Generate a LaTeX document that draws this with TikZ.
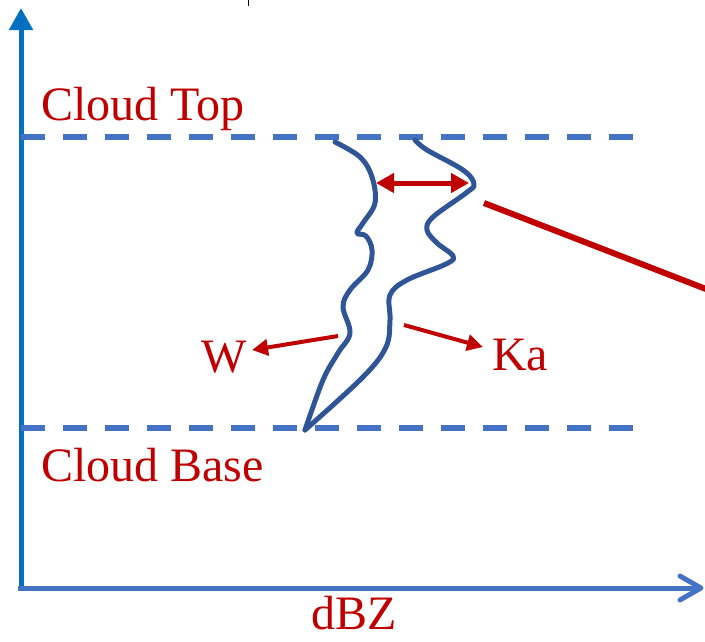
\documentclass[tikz,border=0pt]{standalone}
\usepackage{fontspec}
\setmainfont{Liberation Serif}
\usetikzlibrary{arrows.meta}
\definecolor{cred}{HTML}{C00000}
\definecolor{axisv}{HTML}{0070C0}
\definecolor{axish}{HTML}{4472C4}
\definecolor{curvec}{HTML}{2F5597}
\tikzset{
  lbl/.style={text=cred, inner sep=0pt, anchor=base west, font=\fontsize{48}{52}\selectfont},
  dashline/.style={draw=axish, line width=6, dash pattern=on 24 off 18},
  profile/.style={draw=curvec, line width=5, line cap=round, line join=round},
  redarrow/.style={draw=cred, line width=4, -{Triangle[length=16,width=16]}},
}
\begin{document}
\begin{tikzpicture}[x=1pt,y=-1pt]
\useasboundingbox (0,0) rectangle (705,641);
% coordinates
\coordinate (ybot) at (21,590);
\coordinate (ytop) at (21,8);
\coordinate (xleft) at (18,588);
\coordinate (xend) at (701,588);
\coordinate (ttop1) at (21,137);
\coordinate (ttop2) at (635,137);
\coordinate (tbase1) at (21,428);
\coordinate (tbase2) at (635,428);
\coordinate (tick1) at (248,0);
\coordinate (tick2) at (248,6);
% small tick
\draw[black, line width=1] (tick1) -- (tick2);
% axes
\draw[axisv, line width=5, -{Triangle[length=22,width=23]}] (ybot) -- (ytop);
\draw[axish, line width=5] (xleft) -- (xend);
\draw[axish, line width=5, line cap=round, line join=round] ([shift={(-21,-12)}]xend) -- (xend) -- ([shift={(-21,12)}]xend);
% dashed levels
\draw[dashline] (ttop1) -- (ttop2);
\draw[dashline] (tbase1) -- (tbase2);
% labels
\node[lbl] (ctop) at (41,120) {Cloud Top};
\node[lbl] (cbase) at (41,481) {Cloud Base};
\node[lbl] (w) at (201,372) {W};
\node[lbl] (ka) at (492,370) {Ka};
\node[lbl] (dbz) at (311,629) {dBZ};
% profiles
\draw[profile] plot[smooth, tension=0.6] coordinates {
 (335,142) (360,157) (372,177) (375,203) (363,223) (357,233) (366,236)
 (372,250) (368,270) (350,290) (343,307) (350,333) (338,353) (323,380) (305,430)};
\draw[profile] plot[smooth, tension=0.6] coordinates {
 (415,140) (427,150) (463,170) (474,184) (466,193) (433,217) (427,230)
 (437,243) (453,256) (446,264) (407,280) (390,295) (390,320) (386,347) (363,377) (305,430)};
% red arrows
\coordinate (d1) at (376,183);
\coordinate (d2) at (469,183);
\draw[cred, line width=5, {Triangle[length=18,width=19]}-{Triangle[length=18,width=19]}] (d1) -- (d2);
\coordinate (wstart) at (338,336);
\coordinate (wend) at (252,350);
\draw[redarrow] (wstart) -- (wend);
\coordinate (kstart) at (404,325);
\coordinate (kend) at (483,347);
\draw[redarrow] (kstart) -- (kend);
\coordinate (l1) at (484,203);
\coordinate (l2) at (706,289);
\draw[cred, line width=6] (l1) -- (l2);
\end{tikzpicture}
\end{document}
